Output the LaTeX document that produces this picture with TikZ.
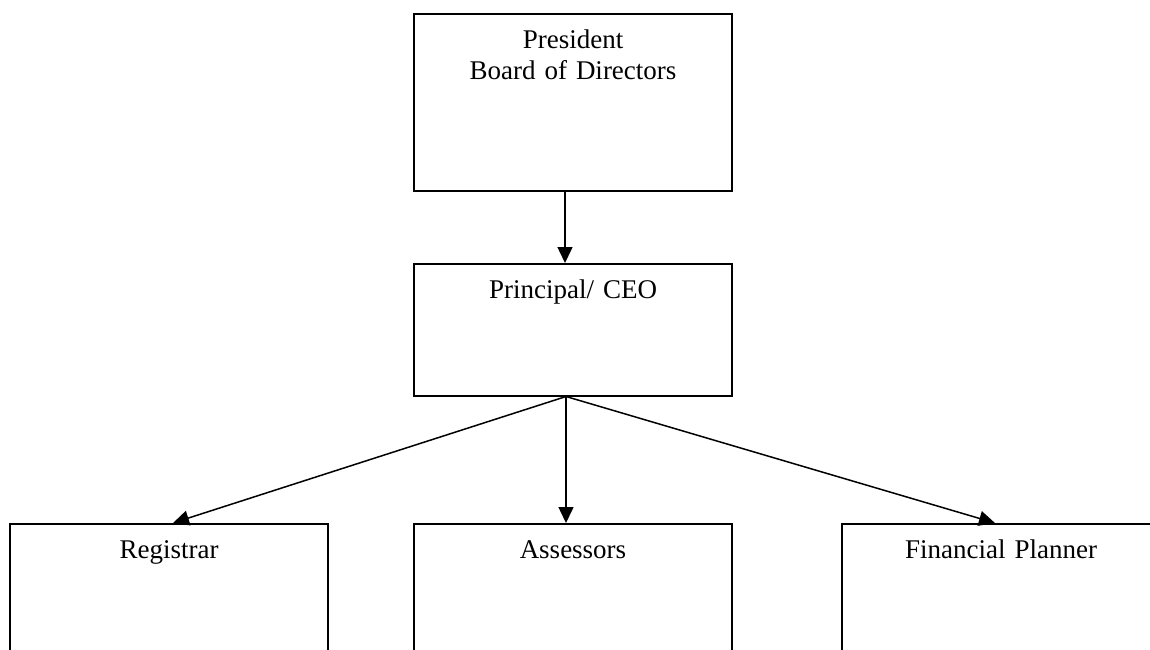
\documentclass[tikz,border=0pt]{standalone}
\usepackage{fontspec}
\setmainfont{Liberation Serif}[WordSpace=0.7]
\usetikzlibrary{arrows.meta}

\begin{document}
\begin{tikzpicture}[x=1pt,y=-1pt,>={Triangle[length=16pt,width=15pt]},line width=1.5pt,
    box/.style={draw,rectangle,anchor=north,inner sep=0pt,text width=318pt,align=center,
      font=\fontsize{27}{31}\selectfont,text height=35pt,text depth=#1},
    arr/.style={->,line width=1.5pt}]
  \clip (0,0) rectangle (1150,649);

  \node[box=142pt] (pres) at (573,13)  {President\\Board of Directors};
  \node[box=97pt]  (ceo)  at (573,263) {Principal/ CEO};
  \node[box=130pt] (reg)  at (169,523) {Registrar};
  \node[box=130pt] (asr)  at (573,523) {Assessors};
  \node[box=130pt] (fin)  at (1001,523) {Financial Planner};

  \draw[arr] ([xshift=-8pt]pres.south) -- ([xshift=-8pt]ceo.north);
  \draw[arr] ([xshift=-7pt]ceo.south) -- ([xshift=4pt]reg.north);
  \draw[arr] ([xshift=-7pt]ceo.south) -- ([xshift=-7pt]asr.north);
  \draw[arr] ([xshift=-7pt]ceo.south) -- ([xshift=-6pt]fin.north);
\end{tikzpicture}
\end{document}
